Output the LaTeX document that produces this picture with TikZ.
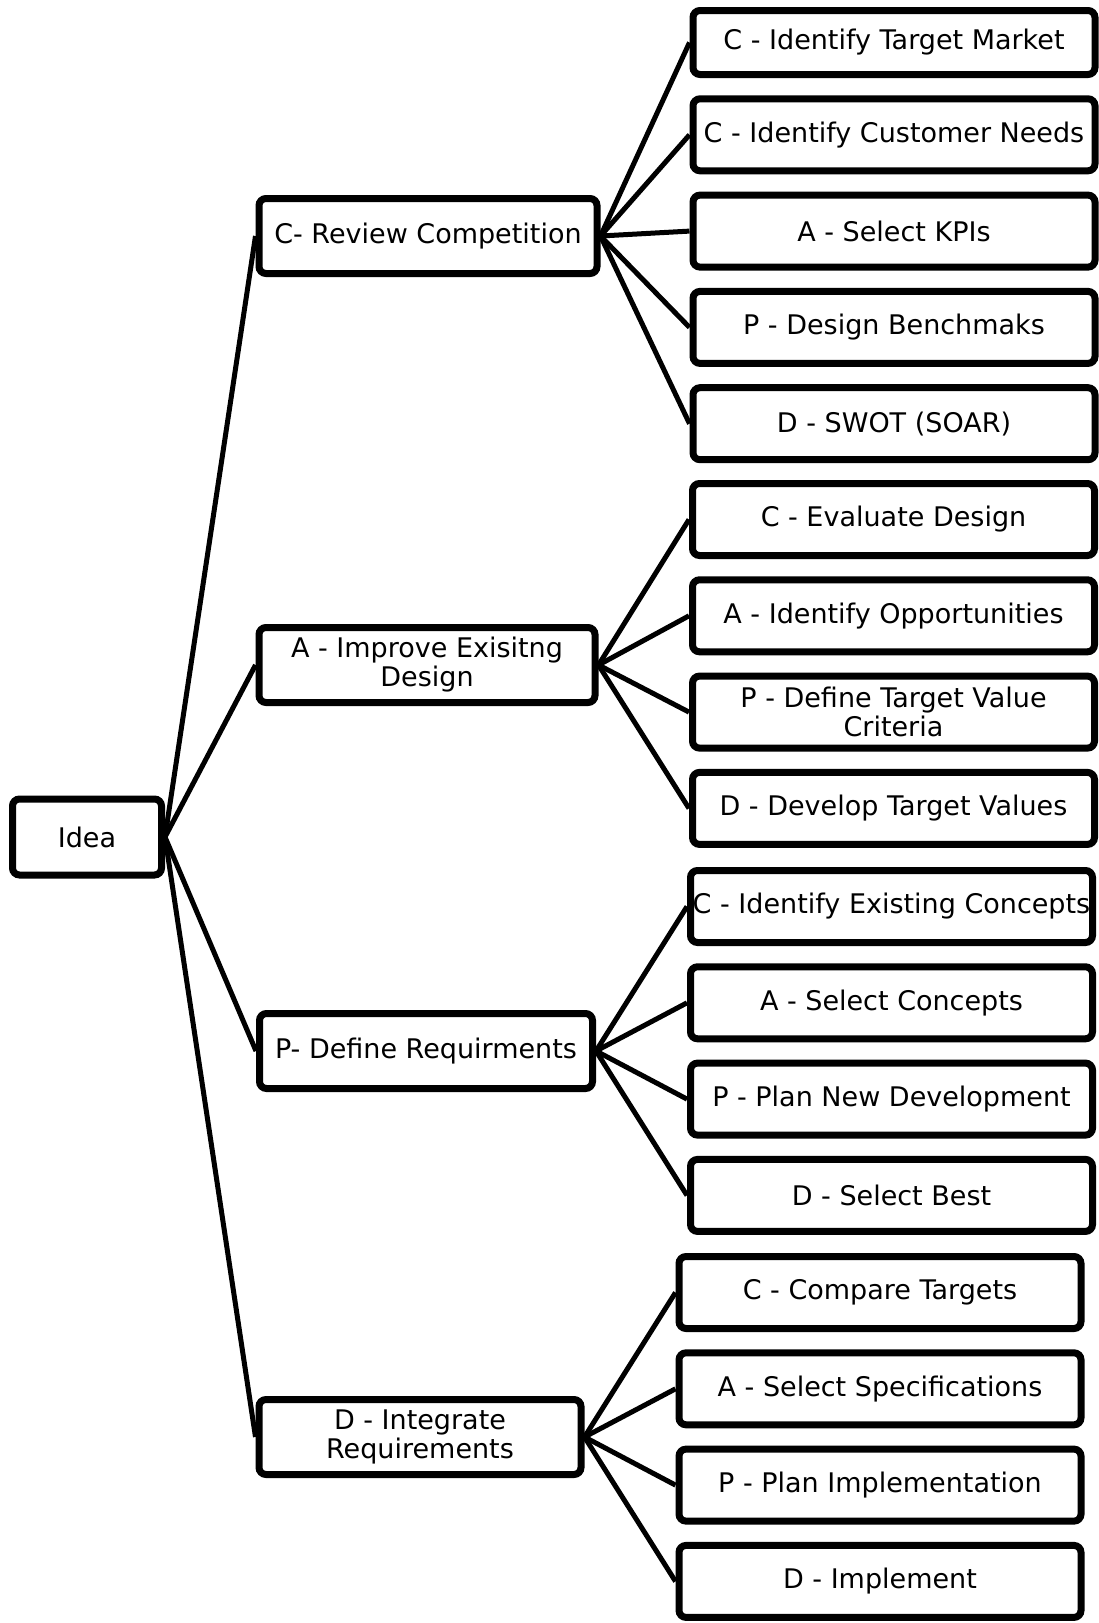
\documentclass[tikz,border=0pt]{standalone}
\usepackage{fontspec}
\setmainfont{DejaVu Sans}
\usepackage{tikz}
\usetikzlibrary{positioning}
\usetikzlibrary{shapes,shadows}
\tikzstyle{block} = [rectangle, draw, line width=7pt, rounded corners=7pt, fill=white,
    drop shadow={shadow xshift=2pt, shadow yshift=-3pt, opacity=0.25},
    align=center, inner sep=1pt, font=\fontsize{27}{29}\selectfont]
\tikzstyle{root} = [block, minimum width=149pt, minimum height=76pt]
\tikzstyle{phase} = [block, minimum height=75pt]
\tikzstyle{task} = [block, minimum width=402pt, minimum height=72pt]
\tikzstyle{line} = [draw, line width=5pt]

\begin{document}
\begin{tikzpicture}[x=1pt, y=-1pt, node distance=17.3pt]
        \useasboundingbox (0,0) rectangle (1099,1623);
        \node [root] (idea) at (87,837) {Idea};
        \node [phase, minimum width=338pt] (comp) at (428,236) {C- Review Competition};
        \node [phase, minimum width=336pt] (impr) at (427,665) {A - Improve Exisitng\\Design};
        \node [phase, minimum width=333pt] (reqs) at (426,1051) {P- Define Requirments};
        \node [phase, minimum width=322pt] (integ) at (420,1437) {D - Integrate\\Requirements};
        % C
        \node [task, minimum height=64pt] (market) at (894,42.5) {C - Identify Target Market};
        \node [task, below=of market] (needs) {C - Identify Customer Needs};
        \node [task, below=of needs] (kpis) {A - Select KPIs};
        \node [task, below=of kpis] (bench) {P - Design Benchmaks};
        \node [task, below=of bench] (swot) {D - SWOT (SOAR)};
        % A
        \node [task] (evaldes) at (893.5,519.5) {C - Evaluate Design};
        \node [task, below=of evaldes] (opps) {A - Identify Opportunities};
        \node [task, below=of opps] (crit) {P - Define Target Value\\Criteria};
        \node [task, below=of crit] (tvals) {D - Develop Target Values};
        % P
        \node [task] (exist) at (891.5,906.5) {C - Identify Existing Concepts};
        \node [task, below=of exist] (selconc) {A - Select Concepts};
        \node [task, below=of selconc] (newdev) {P - Plan New Development};
        \node [task, below=of newdev] (best) {D - Select Best};
        % D
        \node [task] (targets) at (880,1292.5) {C - Compare Targets};
        \node [task, below=of targets] (specs) {A - Select Specifications};
        \node [task, below=of specs] (planimp) {P - Plan Implementation};
        \node [task, below=of planimp] (impl) {D - Implement};
        % edges
        \path [line] (idea.east) -- (comp.west);
        \path [line] (idea.east) -- (impr.west);
        \path [line] (idea.east) -- (reqs.west);
        \path [line] (idea.east) -- (integ.west);
        \path [line] (comp.east) -- (market.west);
        \path [line] (comp.east) -- (needs.west);
        \path [line] (comp.east) -- (kpis.west);
        \path [line] (comp.east) -- (bench.west);
        \path [line] (comp.east) -- (swot.west);
        \path [line] (impr.east) -- (evaldes.west);
        \path [line] (impr.east) -- (opps.west);
        \path [line] (impr.east) -- (crit.west);
        \path [line] (impr.east) -- (tvals.west);
        \path [line] (reqs.east) -- (exist.west);
        \path [line] (reqs.east) -- (selconc.west);
        \path [line] (reqs.east) -- (newdev.west);
        \path [line] (reqs.east) -- (best.west);
        \path [line] (integ.east) -- (targets.west);
        \path [line] (integ.east) -- (specs.west);
        \path [line] (integ.east) -- (planimp.west);
        \path [line] (integ.east) -- (impl.west);
    \end{tikzpicture}
\end{document}
